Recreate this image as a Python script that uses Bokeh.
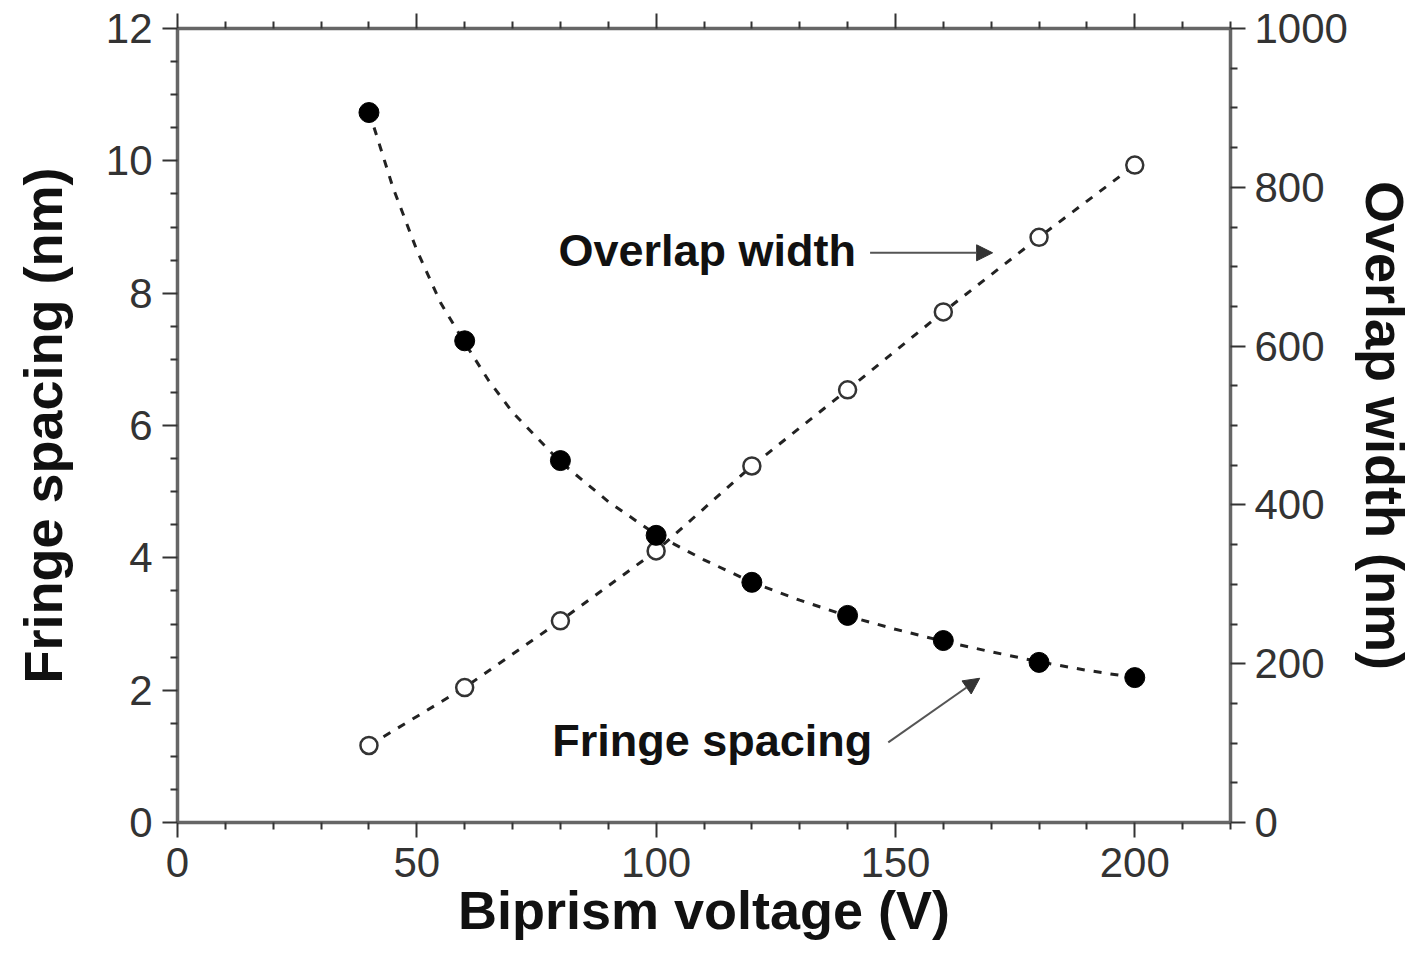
from bokeh.plotting import figure
from bokeh.models import (LinearAxis, Range1d, FixedTicker, Arrow, NormalHead, Label)
from bokeh.embed import file_html
from bokeh.resources import INLINE

# ---- data ----
voltage = [40, 60, 80, 100, 120, 140, 160, 180, 200]
fringe_spacing = [10.73, 7.28, 5.47, 4.34, 3.63, 3.13, 2.75, 2.42, 2.19]      # nm, left axis
overlap_width = [97, 170, 254, 342, 449, 545, 643, 737, 828]                  # nm, right axis

# dashed fitted curve for fringe spacing
fit_voltage = [40, 45, 50, 55, 60, 65, 70, 80, 90, 100, 110, 120, 130, 140, 150, 160, 170, 180, 190, 200]
fit_fringe = [10.75, 9.6, 8.65, 7.85, 7.25, 6.68, 6.2, 5.45, 4.85, 4.35, 3.97, 3.63, 3.36, 3.12, 2.92,
              2.74, 2.58, 2.43, 2.30, 2.19]

x_ticks = [0, 50, 100, 150, 200]
left_ticks = [0, 2, 4, 6, 8, 10, 12]
right_ticks = [0, 200, 400, 600, 800, 1000]

FONT = "Liberation Sans"
AX = "#666666"
TK = "#333333"
LBL = "#111111"

p = figure(width=1421, height=957, output_backend="svg", toolbar_location=None,
           x_range=Range1d(0, 220), y_range=Range1d(0, 12),
           min_border_left=177, min_border_right=191, min_border_top=28, min_border_bottom=135)
p.extra_y_ranges = {"ow": Range1d(0, 1000)}
p.outline_line_color = None
p.xgrid.visible = False
p.ygrid.visible = False
p.background_fill_color = "white"
p.border_fill_color = "white"


def minors(ticks, n):
    out = []
    for a, b in zip(ticks[:-1], ticks[1:]):
        step = (b - a) / n
        out += [a + step * k for k in range(1, n)]
    return out


def style(ax, ticks, nminor, extend=None, label=None, labels=True):
    base = ticks + ([extend] if extend is not None else [])
    ax.ticker = FixedTicker(ticks=ticks, minor_ticks=minors(base, nminor))
    ax.axis_line_color = AX
    ax.axis_line_width = 3.5
    ax.major_tick_line_color = TK
    ax.major_tick_line_width = 2
    ax.minor_tick_line_color = TK
    ax.minor_tick_line_width = 2
    ax.major_tick_in = 0
    ax.major_tick_out = 15
    ax.minor_tick_in = 0
    ax.minor_tick_out = 7
    ax.major_label_text_font = FONT
    ax.major_label_text_color = TK
    ax.major_label_text_font_size = "42px"
    ax.major_label_standoff = 10
    if label:
        ax.axis_label = label
        ax.axis_label_text_font = FONT
        ax.axis_label_text_font_style = "bold"
        ax.axis_label_text_font_size = "54px"
        ax.axis_label_text_color = LBL
    if not labels:
        ax.major_label_overrides = {t: "" for t in ticks}
        ax.major_label_text_font_size = "1px"
        ax.major_label_standoff = 0


# bottom axis
xb = p.xaxis[0]
style(xb, x_ticks, 5, extend=250, label="Biprism voltage (V)")
xb.axis_label_standoff = 0
# left axis
yl = p.yaxis[0]
style(yl, left_ticks, 4, label="Fringe spacing (nm)")
yl.axis_label_standoff = 30
# right axis
yr = LinearAxis(y_range_name="ow")
style(yr, right_ticks, 4, label="Overlap width (nm)")
yr.major_label_standoff = 9
yr.axis_label_standoff = 4
p.add_layout(yr, "right")
# top axis (ticks only)
xt = LinearAxis()
style(xt, x_ticks, 5, extend=250, labels=False)
p.add_layout(xt, "above")

# curves
p.line(fit_voltage, fit_fringe, line_color="#222222", line_width=3, line_dash="8 9")
p.line(voltage, overlap_width, y_range_name="ow", line_color="#222222", line_width=3, line_dash="8 9")

# markers
p.scatter(voltage, overlap_width, y_range_name="ow", size=17, marker="circle",
          fill_color="white", line_color="#333333", line_width=2.5)
p.scatter(voltage, fringe_spacing, size=20, marker="circle",
          fill_color="black", line_color="black")

# annotations
p.add_layout(Label(x=79.6, y=8.64, text="Overlap width", text_font=FONT, text_font_style="bold",
                   text_font_size="45px", text_color=LBL, text_baseline="middle"))
p.add_layout(Label(x=78.3, y=1.24, text="Fringe spacing", text_font=FONT, text_font_style="bold",
                   text_font_size="45px", text_color=LBL, text_baseline="middle"))
p.add_layout(Arrow(end=NormalHead(size=16, fill_color="#333333", line_color="#333333"),
                   x_start=144.7, y_start=8.61, x_end=170.3, y_end=8.61,
                   line_color="#555555", line_width=2))
p.add_layout(Arrow(end=NormalHead(size=16, fill_color="#333333", line_color="#333333"),
                   x_start=148.5, y_start=1.21, x_end=167.6, y_end=2.18,
                   line_color="#555555", line_width=2))

open("out.html", "w").write(file_html(p, INLINE))
